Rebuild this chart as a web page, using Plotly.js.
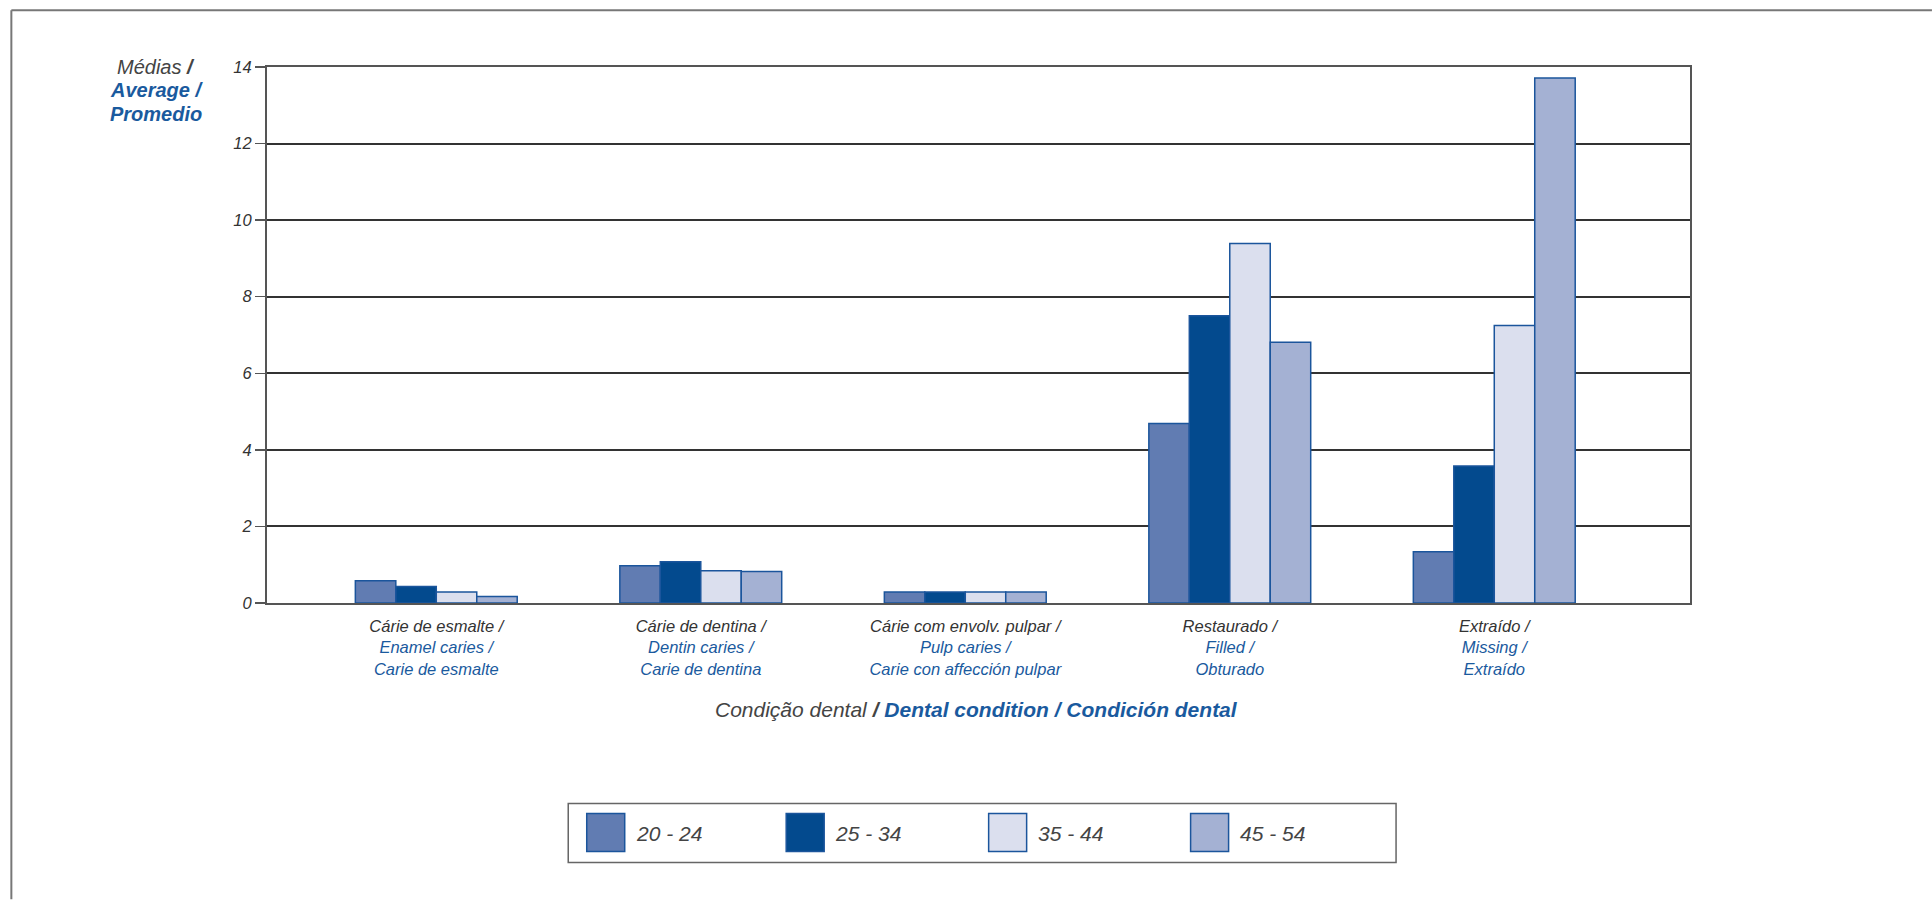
<!DOCTYPE html>
<html>
<head>
<meta charset="utf-8">
<script src="https://cdn.plot.ly/plotly-3.0.1.min.js"></script>
<style>html,body{margin:0;padding:0;background:#fff;}#chart{width:1932px;height:900px;}</style>
</head>
<body>
<div id="chart"></div>
<script>
// ---- data ----
const catPt = ["Cárie de esmalte /", "Cárie de dentina /", "Cárie com envolv. pulpar /", "Restaurado /", "Extraído /"];
const catEn = ["Enamel caries /", "Dentin caries /", "Pulp caries /", "Filled /", "Missing /"];
const catEs = ["Carie de esmalte", "Carie de dentina", "Carie con affección pulpar", "Obturado", "Extraído"];
const seriesNames = ["20 - 24", "25 - 34", "35 - 44", "45 - 54"];
const v2024 = [0.58, 0.97, 0.29, 4.69, 1.34];
const v2534 = [0.43, 1.08, 0.29, 7.50, 3.58];
const v3544 = [0.29, 0.84, 0.29, 9.39, 7.25];
const v4554 = [0.17, 0.82, 0.29, 6.81, 13.71];
const yTicks = [0, 2, 4, 6, 8, 10, 12, 14];
const yTitleLines = ["Médias <b>/</b>", "Average /", "Promedio"];

// ---- styling ----
const colors = ["#617cb2", "#034a8e", "#dbdfee", "#a4b1d3"];
const outline = "#1b559c";
const blue = "#1a5a9e";
const grey = "#333333";
const FONT = "Liberation Sans, Arial, sans-serif";

const W = 1932, H = 900;
const L = 266.7, R = 1690, T = 66.7, B = 603.3;
const px2x = p => (p - L) / (R - L);
const py2y = p => (B - p) / (B - T);

const cats = catPt.map((c, i) => "c" + i);
const ticktext = catPt.map((c, i) =>
  c + "<br><span style='color:" + blue + "'>" + catEn[i] + "</span><br><span style='color:" + blue + "'>" + catEs[i] + "</span>");

const allVals = [v2024, v2534, v3544, v4554];
const traces = allVals.map((vals, k) => ({
  type: "bar",
  name: seriesNames[k],
  x: cats,
  y: vals,
  marker: {color: colors[k], line: {color: outline, width: 1.5}},
  showlegend: false,
  hoverinfo: "skip"
}));

// custom legend + frame
const shapes = [
  {type: "line", xref: "paper", yref: "paper", x0: px2x(11), x1: px2x(1932), y0: py2y(10), y1: py2y(10), line: {color: "#777", width: 2}},
  {type: "line", xref: "paper", yref: "paper", x0: px2x(11), x1: px2x(11), y0: py2y(10), y1: py2y(900), line: {color: "#777", width: 2}},
  {type: "rect", xref: "paper", yref: "paper", x0: px2x(568), x1: px2x(1396), y0: py2y(804), y1: py2y(863), line: {color: "#666", width: 1.5}, fillcolor: "rgba(0,0,0,0)"}
];
const annotations = [];
const legLeft = [586.5, 786, 988.5, 1190.5];
seriesNames.forEach((n, k) => {
  shapes.push({type: "rect", xref: "paper", yref: "paper",
    x0: px2x(legLeft[k]), x1: px2x(legLeft[k] + 38), y0: py2y(814), y1: py2y(852),
    fillcolor: colors[k], line: {color: outline, width: 1.5}});
  annotations.push({xref: "paper", yref: "paper", x: px2x(legLeft[k] + 47), y: py2y(834),
    xanchor: "left", yanchor: "middle", showarrow: false, text: n,
    font: {family: FONT, size: 21, color: "#444", style: "italic"}});
});

const yTitleY = [66.7, 90, 113.3];
yTitleLines.forEach((t, i) => {
  annotations.push({
    xref: "paper", yref: "paper", x: px2x(156), y: py2y(yTitleY[i]), xanchor: "center", yanchor: "middle",
    showarrow: false,
    text: i === 0 ? t : "<b>" + t + "</b>",
    font: {family: FONT, size: 20, color: i === 0 ? "#444" : blue, style: "italic"}
  });
});
annotations.push({
  xref: "paper", yref: "paper", x: px2x(976), y: py2y(710), xanchor: "center", yanchor: "middle",
  showarrow: false,
  text: "Condição dental <b>/</b> <b><span style='color:" + blue + "'>Dental condition / Condición dental</span></b>",
  font: {family: FONT, size: 21, color: "#444", style: "italic"}
});

const layout = {
  width: W, height: H,
  margin: {l: L, r: W - R, t: T, b: H - B, pad: 0},
  paper_bgcolor: "#fff", plot_bgcolor: "#fff",
  barmode: "group", bargap: 0.388, bargroupgap: 0,
  font: {family: FONT},
  xaxis: {
    type: "category", range: [-0.64, 4.74],
    tickvals: cats, ticktext: ticktext,
    showgrid: false, zeroline: false,
    showline: true, mirror: true, linecolor: "#555", linewidth: 2,
    ticks: "", ticklabelstandoff: 7,
    tickfont: {family: FONT, size: 16.5, color: grey, style: "italic"}
  },
  yaxis: {
    range: [0, 14], tickvals: yTicks, ticktext: yTicks.map(String),
    showgrid: true, gridcolor: "#333", gridwidth: 2,
    zeroline: false,
    showline: true, mirror: true, linecolor: "#555", linewidth: 2,
    ticks: "outside", ticklen: 10, tickcolor: "#555", tickwidth: 1.5,
    tickfont: {family: FONT, size: 16.5, color: grey, style: "italic"}
  },
  shapes: shapes,
  annotations: annotations
};

Plotly.newPlot("chart", traces, layout, {displayModeBar: false, staticPlot: true});
</script>
</body>
</html>
